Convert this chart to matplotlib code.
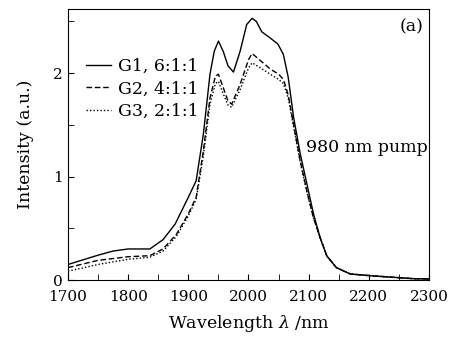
import matplotlib
matplotlib.use('Agg')
import matplotlib.pyplot as plt
import numpy as np

# data (wavelength in nm, intensity in a.u.)
wl_g1 = [1700, 1750, 1775, 1800, 1836, 1858, 1878, 1900, 1913, 1925, 1936, 1943, 1950,
         1958, 1966, 1975, 1986, 1997, 2006, 2013, 2022, 2036, 2049, 2058, 2066, 2075,
         2086, 2097, 2108, 2119, 2130, 2146, 2169, 2202, 2241, 2274, 2300]
g1 = [0.15, 0.24, 0.28, 0.30, 0.30, 0.39, 0.54, 0.80, 0.96, 1.41, 1.99, 2.21, 2.31,
      2.21, 2.07, 2.01, 2.21, 2.47, 2.53, 2.50, 2.40, 2.34, 2.28, 2.18, 1.96, 1.57,
      1.22, 0.93, 0.64, 0.41, 0.235, 0.12, 0.058, 0.042, 0.026, 0.013, 0.01]

wl_g2 = [1700, 1750, 1800, 1836, 1858, 1880, 1900, 1913, 1925, 1936, 1945, 1950, 1958,
         1966, 1972, 1986, 2000, 2006, 2020, 2036, 2050, 2058, 2066, 2075, 2086, 2097,
         2108, 2119, 2130, 2146, 2169, 2202, 2241, 2274, 2300]
g2 = [0.12, 0.19, 0.225, 0.235, 0.30, 0.44, 0.64, 0.80, 1.25, 1.76, 1.97, 1.99, 1.86,
      1.73, 1.70, 1.89, 2.13, 2.19, 2.12, 2.04, 1.99, 1.94, 1.79, 1.50, 1.15, 0.86,
      0.60, 0.41, 0.235, 0.12, 0.058, 0.042, 0.026, 0.013, 0.01]

wl_g3 = [1700, 1750, 1800, 1836, 1858, 1880, 1900, 1913, 1925, 1936, 1945, 1950, 1958,
         1966, 1972, 1986, 2000, 2006, 2020, 2036, 2050, 2058, 2066, 2075, 2086, 2097,
         2108, 2119, 2130, 2146, 2169, 2202, 2241, 2274, 2300]
g3 = [0.085, 0.15, 0.20, 0.22, 0.28, 0.42, 0.62, 0.78, 1.20, 1.70, 1.90, 1.92, 1.80,
      1.69, 1.67, 1.84, 2.05, 2.10, 2.05, 1.99, 1.94, 1.90, 1.76, 1.48, 1.14, 0.85,
      0.60, 0.41, 0.23, 0.12, 0.06, 0.04, 0.025, 0.012, 0.01]

labels = ['G1, 6:1:1', 'G2, 4:1:1', 'G3, 2:1:1']
styles = ['-', (0, (4, 2)), (0, (1, 1.5))]

plt.rcParams['font.family'] = ['DejaVu Serif']
plt.rcParams['mathtext.fontset'] = 'dejavuserif'

fig = plt.figure(figsize=(4.54, 3.38), dpi=100)
ax = fig.add_axes([68 / 454, 1 - 280 / 338, 361 / 454, 271 / 338])

for x, y, lab, ls in zip([wl_g1, wl_g2, wl_g3], [g1, g2, g3], labels, styles):
    ax.plot(x, y, color='black', linestyle=ls, linewidth=1.0, label=lab)

ax.set_xlim(1700, 2300)
ax.set_ylim(0, 2.62)
ax.set_xticks(np.arange(1700, 2301, 100))
ax.set_xticks(np.arange(1750, 2300, 100), minor=True)
ax.set_yticks([0, 1, 2])
ax.set_yticks([0.5, 1.5, 2.5], minor=True)
ax.tick_params(direction='in', labelsize=11, length=4)
ax.tick_params(axis='x', pad=7)
ax.tick_params(which='minor', direction='in', length=4)

ax.set_xlabel('Wavelength $\\lambda$ /nm', fontsize=12.5, labelpad=7)
ax.set_ylabel('Intensity (a.u.)', fontsize=12.5, labelpad=14)

ax.legend(loc='upper left', bbox_to_anchor=(0.05, 0.82), frameon=False, fontsize=12.5,
          handlelength=1.45, handletextpad=0.4, labelspacing=0.32, borderaxespad=0,
          borderpad=0)
ax.text(0.985, 0.965, '(a)', transform=ax.transAxes, ha='right', va='top', fontsize=12.5)
ax.text(2298, 1.28, '980 nm pump', ha='right', va='center', fontsize=12.5)

fig.savefig('out.png', dpi=100)
